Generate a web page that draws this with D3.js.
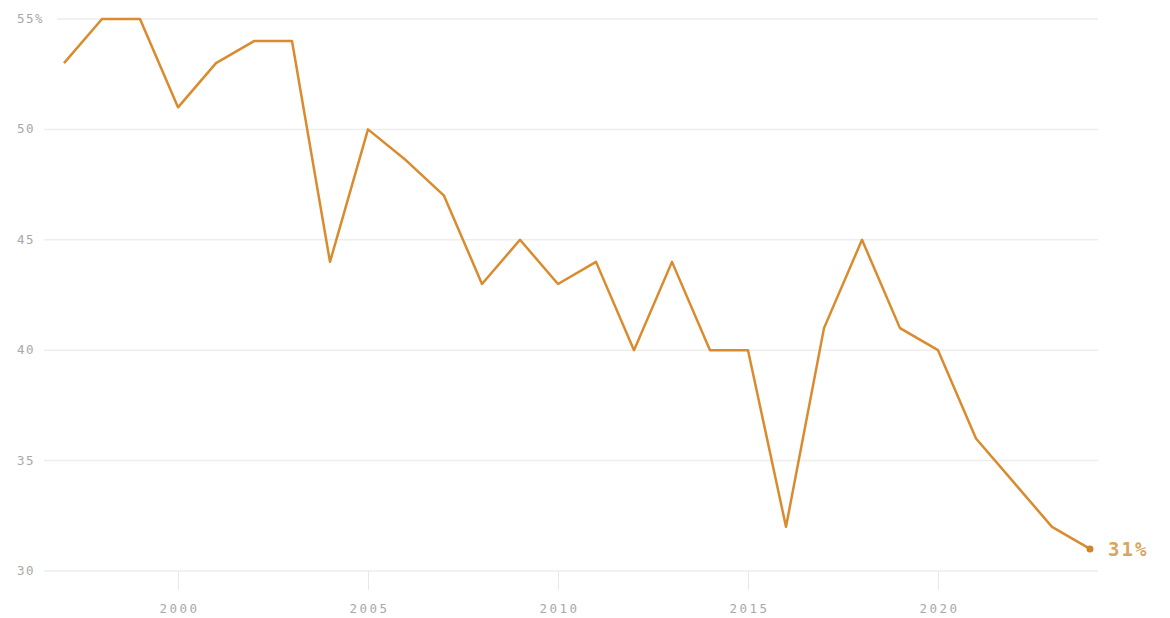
<!DOCTYPE html>
<html>
<head>
<meta charset="utf-8">
<script src="https://cdn.jsdelivr.net/npm/d3@7"></script>
<style>
  body { margin: 0; background: #fff; }
  svg text { font-family: "DejaVu Sans Mono", monospace; }
</style>
</head>
<body>
<svg id="chart" width="1170" height="618"></svg>
<script>
const years = d3.range(1997, 2025)
const values = [53, 55, 55, 51, 53, 54, 54, 44, 50, 48.6, 47, 43, 45, 43, 44, 40, 44, 40, 40, 32, 41, 45, 41, 40, 36, 34, 32, 31]
const yTicks = [30, 35, 40, 45, 50, 55]
const xTicks = [2000, 2005, 2010, 2015, 2020]

const data = years.map((y, i) => ({year: y, value: values[i]}))

const svg = d3.select('#chart')

const xScale = d3.scaleLinear()
  .domain([1997, 2024])
  .range([64, 1090])

const yScale = d3.scaleLinear()
  .domain([30, 55])
  .range([571, 19])

// grid lines + y labels
const grid = svg.append('g')
grid.selectAll('line')
  .data(yTicks)
  .join('line')
  .attr('x1', d => d == 55 ? 57 : 44)
  .attr('x2', 1098)
  .attr('y1', d => yScale(d))
  .attr('y2', d => yScale(d))
  .attr('stroke', '#ededed')
  .attr('stroke-width', 1.5)

grid.selectAll('text')
  .data(yTicks)
  .join('text')
  .attr('x', 17)
  .attr('y', d => yScale(d) + 4)
  .attr('font-size', 12.5)
  .attr('letter-spacing', 1.5)
  .attr('fill', '#a8a8a8')
  .text(d => d == 55 ? d + '%' : d)

// x axis
const xAxis = svg.append('g')
  .attr('transform', `translate(0, ${yScale(30)})`)
  .call(d3.axisBottom(xScale).tickValues(xTicks).tickFormat(d3.format('d')).tickSize(19).tickPadding(14))
xAxis.select('.domain').remove()
xAxis.selectAll('.tick line').attr('stroke', '#e8e8e8')
xAxis.selectAll('.tick text')
  .attr('font-size', 12.5)
  .attr('letter-spacing', 2.5)
  .attr('dx', 1)
  .attr('fill', '#a8a8a8')
  .attr('font-family', '"DejaVu Sans Mono", monospace')

const line = d3.line()
  .x(d => xScale(d.year))
  .y(d => yScale(d.value))

svg.append('path')
  .datum(data)
  .attr('fill', 'none')
  .attr('stroke', '#d98b2d')
  .attr('stroke-width', 2.5)
  .attr('stroke-linejoin', 'round')
  .attr('d', line)

const last = data[data.length - 1]
svg.append('circle')
  .attr('cx', xScale(last.year))
  .attr('cy', yScale(last.value))
  .attr('r', 3.5)
  .attr('fill', '#d08526')

svg.append('text')
  .attr('x', xScale(last.year) + 18)
  .attr('y', yScale(last.value) + 7)
  .attr('font-size', 19)
  .attr('font-weight', 'bold')
  .attr('letter-spacing', 2)
  .attr('fill', '#d9a560')
  .text(last.value + '%')
</script>
</body>
</html>
